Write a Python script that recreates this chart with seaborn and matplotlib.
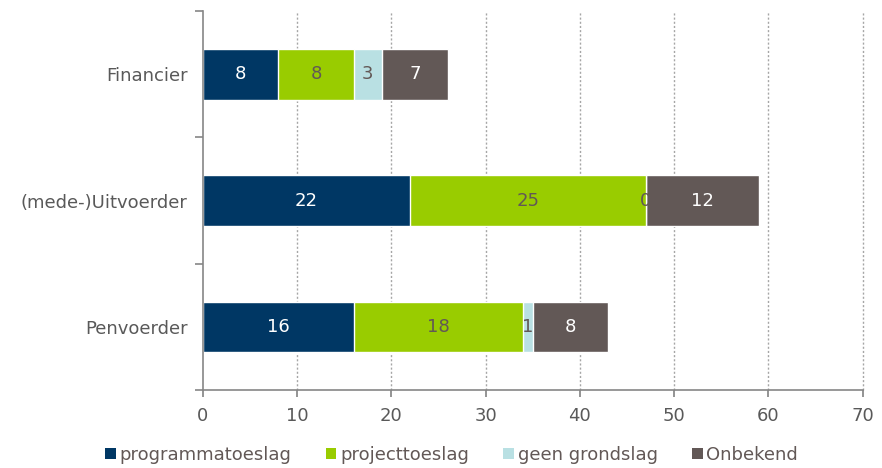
import numpy as np
import pandas as pd
import matplotlib
matplotlib.use("Agg")
import matplotlib.pyplot as plt
from matplotlib.patches import Patch, Rectangle
import seaborn as sns

# Data
categories = ["Financier", "(mede-)Uitvoerder", "Penvoerder"]
series = ["programmatoeslag", "projecttoeslag", "geen grondslag", "Onbekend"]
programmatoeslag = [8, 22, 16]
projecttoeslag = [8, 25, 18]
geen_grondslag = [3, 0, 1]
onbekend = [7, 12, 8]

colors = ["#003764", "#99cc00", "#b9e0e3", "#625856"]
label_colors = ["white", "#625856", "#625856", "white"]
text_gray = "#595959"

values = np.array([programmatoeslag, projecttoeslag, geen_grondslag, onbekend], dtype=float)
cum = np.cumsum(values, axis=0)

sns.set_theme(style="white")
plt.rcParams["font.family"] = ["DejaVu Sans"]

fig = plt.figure(figsize=(8.82, 4.68), dpi=100)
ax = fig.add_axes([0.230, 0.167, 0.748, 0.809])

# Stacked bars: draw cumulative totals from the outermost segment inward
for i in range(len(series) - 1, -1, -1):
    df = pd.DataFrame({"cat": categories, "val": cum[i]})
    sns.barplot(data=df, x="val", y="cat", orient="h", color=colors[i],
                saturation=1, width=0.4, ax=ax, zorder=2 + (3 - i) * 0.01)

# Segment labels
for i in range(len(series)):
    for j in range(len(categories)):
        start = cum[i][j] - values[i][j]
        xc = start + values[i][j] / 2
        t = ax.text(xc, j, f"{int(values[i][j])}", ha="center", va="center",
                    color=label_colors[i], fontsize=13, zorder=5)
        if values[i][j] == 0:
            clip = Rectangle((0, j - 0.2), start, 0.4, transform=ax.transData)
            t.set_clip_path(clip)

ax.set_xlim(0, 70)
ax.set_ylim(2.5, -0.5)
ax.set_xticks(np.arange(0, 71, 10))
ax.set_xlabel("")
ax.set_ylabel("")

# Dotted vertical grid
for xv in range(10, 71, 10):
    ax.axvline(xv, color="#a6a6a6", linestyle=(0, (1.5, 1.5)), linewidth=1,
               zorder=0, clip_on=False)

for s in ["top", "right"]:
    ax.spines[s].set_visible(False)
for s in ["left", "bottom"]:
    ax.spines[s].set_color("#868686")
    ax.spines[s].set_linewidth(1.2)

ax.tick_params(axis="x", bottom=True, length=5, color="#868686", labelsize=13,
               labelcolor=text_gray, pad=7)
ax.tick_params(axis="y", which="major", left=False, length=0, labelsize=13,
               labelcolor=text_gray, pad=11)
ax.set_yticks([-0.5, 0.5, 1.5, 2.5], minor=True)
ax.tick_params(axis="y", which="minor", left=True, length=6, color="#868686", width=1.2)

# Legend
handles = [Patch(facecolor=c, edgecolor="none") for c in colors]
fig.legend(handles, series, loc="center", bbox_to_anchor=(0.512, 0.028), ncol=4,
           frameon=False, fontsize=13, handlelength=0.6, handleheight=0.6,
           handletextpad=0.2, columnspacing=1.9, labelcolor="#625856")

fig.savefig("out.png", dpi=100)
